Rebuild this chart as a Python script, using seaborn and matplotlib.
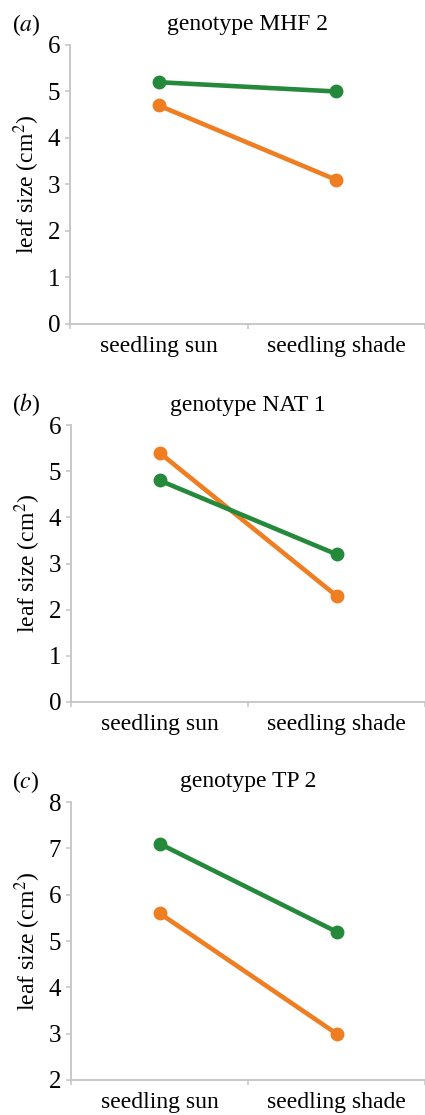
import matplotlib
matplotlib.use("Agg")
import matplotlib.pyplot as plt
import seaborn as sns
import pandas as pd
from matplotlib.ticker import FixedLocator

# ---- data ----
categories = ["seedling sun", "seedling shade"]
panel_letters = ["a", "b", "c"]
panel_titles = ["genotype MHF 2", "genotype NAT 1", "genotype TP 2"]
orange_values = [[4.7, 3.1], [5.4, 2.3], [5.6, 3.0]]
green_values = [[5.2, 5.0], [4.8, 3.2], [7.1, 5.2]]
y_limits = [(0, 6), (0, 6), (2, 8)]
series_names = ["orange series", "green series"]

ORANGE = "#ef7d22"
GREEN = "#25893b"
SPINE = "#c4c4c4"
SERIF = ["Liberation Serif", "DejaVu Serif"]

sns.set_theme(style="white")
plt.rcParams["font.family"] = SERIF
plt.rcParams["mathtext.fontset"] = "stix"

W, H = 425, 1115
fig = plt.figure(figsize=(W / 100, H / 100), dpi=100)

# axes boxes in pixels: (left, top, right, bottom)
boxes = [(70, 45, 425, 324), (71, 425, 425, 702), (71, 802, 425, 1080)]
FS = 17

for i, (l, t, r, b) in enumerate(boxes):
    ax = fig.add_axes([l / W, 1 - b / H, (r - l) / W, (b - t) / H])
    df = pd.DataFrame({
        "condition": categories * 2,
        "size": orange_values[i] + green_values[i],
        "series": [series_names[0]] * 2 + [series_names[1]] * 2,
    })
    sns.pointplot(data=df, x="condition", y="size", hue="series",
                  order=categories, hue_order=series_names,
                  palette=[ORANGE, GREEN], errorbar=None,
                  markers="o", markersize=7.5, linewidth=3.3,
                  legend=False, ax=ax)
    ax.set_xlim(-0.5, 1.5)
    lo, hi = y_limits[i]
    ax.set_ylim(lo, hi)
    yt = list(range(lo, hi + 1))
    ax.set_yticks(yt)
    ax.set_yticklabels([str(v) for v in yt], fontfamily=SERIF, fontsize=18)
    ax.set_xticks(range(len(categories)))
    ax.set_xticklabels(categories, fontfamily=SERIF, fontsize=FS)
    ax.set_xlabel("")
    ax.set_ylabel("leaf size (cm$^2$)", fontsize=FS, color="black",
                  fontfamily=SERIF)
    ax.yaxis.set_label_coords(-0.08, 0.5)

    for s in ["top", "right"]:
        ax.spines[s].set_visible(False)
    for s in ["left", "bottom"]:
        ax.spines[s].set_color(SPINE)
        ax.spines[s].set_linewidth(1.3)

    ax.tick_params(axis="y", which="major", direction="out", length=3.5,
                   width=1.1, color=SPINE, pad=3.5,
                   labelcolor="black", left=True)
    ax.tick_params(axis="x", which="major", length=0,
                   pad=8.5, labelcolor="black", bottom=True)
    ax.xaxis.set_minor_locator(FixedLocator([-0.5, 0.5, 1.5]))
    ax.tick_params(axis="x", which="minor", direction="out", length=3.5,
                   width=1.1, color=SPINE, bottom=True)
    ax.grid(False)

    ax.text(0.5, 1.072, panel_titles[i], transform=ax.transAxes,
            ha="center", va="center", fontsize=FS, color="black",
            fontfamily=SERIF)
    fig.text(12 / W, 1 - (t - 20) / H, "(" + r"$\mathit{" + panel_letters[i] + "}$" + ")",
             ha="left", va="center", fontsize=FS, color="black",
             fontfamily=SERIF)

fig.savefig("out.png", dpi=100)
